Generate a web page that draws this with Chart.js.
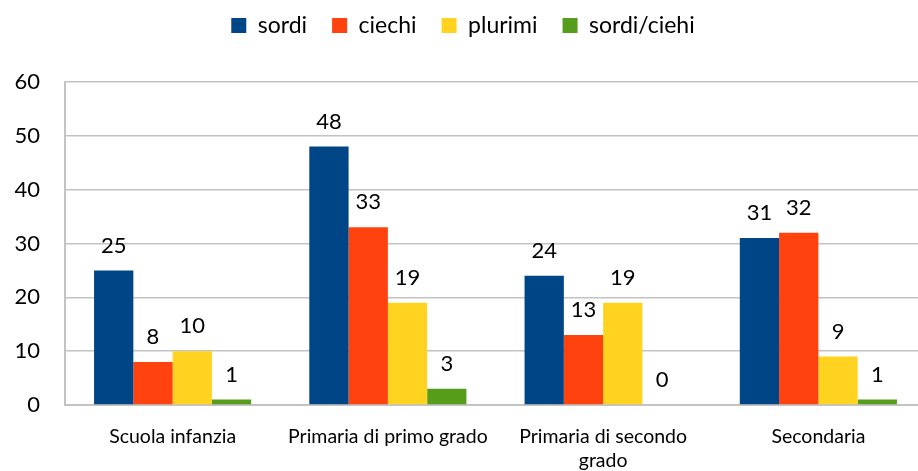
<!DOCTYPE html>
<html>
<head>
<meta charset="utf-8">
<script src="https://cdn.jsdelivr.net/npm/chart.js@4/dist/chart.umd.min.js"></script>
<style>
  html, body { margin: 0; padding: 0; background: #fff; overflow: hidden; }
  #wrap { width: 926px; height: 471px; }
</style>
</head>
<body>
<div id="wrap"><canvas id="chart"></canvas></div>
<script>
// data
const categories = ["Scuola infanzia", "Primaria di primo grado", ["Primaria di secondo", "grado"], "Secondaria"];
const sordi = [25, 48, 24, 31];
const ciechi = [8, 33, 13, 32];
const plurimi = [10, 19, 19, 9];
const sordiCiehi = [1, 3, 0, 1];

const fontFamily = "Lato, 'Liberation Sans', sans-serif";
const gridColor = "#c3c3c3";

// value labels above the bars
const valueLabels = {
  id: "valueLabels",
  afterDatasetsDraw(chart) {
    const ctx = chart.ctx;
    ctx.save();
    ctx.font = "22px " + fontFamily;
    ctx.fillStyle = "#000";
    ctx.textAlign = "center";
    ctx.textBaseline = "middle";
    chart.data.datasets.forEach((ds, i) => {
      chart.getDatasetMeta(i).data.forEach((bar, j) => {
        ctx.fillText(ds.data[j], bar.x, bar.y - 25);
      });
    });
    ctx.restore();
  }
};

// more room under the legend
const legendSpace = {
  id: "legendSpace",
  beforeInit(chart) {
    const fit = chart.legend.fit;
    chart.legend.fit = function () {
      fit.bind(chart.legend)();
      this.height = 93;
    };
  }
};

new Chart(document.getElementById("chart"), {
  type: "bar",
  data: {
    labels: categories,
    datasets: [
      { label: "sordi", data: sordi, backgroundColor: "#004586" },
      { label: "ciechi", data: ciechi, backgroundColor: "#ff420e" },
      { label: "plurimi", data: plurimi, backgroundColor: "#ffd320" },
      { label: "sordi/ciehi", data: sordiCiehi, backgroundColor: "#579d1c" }
    ]
  },
  options: {
    responsive: true,
    maintainAspectRatio: false,
    animation: false,
    layout: { padding: { top: -11, bottom: 0, left: 0, right: 0 } },
    datasets: { bar: { categoryPercentage: 0.73, barPercentage: 1.0 } },
    plugins: {
      legend: {
        position: "top",
        labels: {
          boxWidth: 15,
          boxHeight: 15,
          padding: 25,
          color: "#000",
          font: { family: fontFamily, size: 23 }
        }
      },
      tooltip: { enabled: false }
    },
    scales: {
      x: {
        afterFit(scale) { scale.height = 66; },
        grid: { display: false, drawTicks: false },
        border: { color: gridColor, width: 2 },
        ticks: {
          color: "#000",
          padding: 20,
          maxRotation: 0,
          font: { family: fontFamily, size: 19.5, lineHeight: 1.23 }
        }
      },
      y: {
        min: 0,
        max: 60,
        afterFit(scale) { scale.width = 65; },
        grid: { color: gridColor, lineWidth: 1.5, drawTicks: false },
        border: { color: gridColor, width: 2 },
        ticks: {
          stepSize: 10,
          color: "#000",
          padding: 25,
          font: { family: fontFamily, size: 22 }
        }
      }
    }
  },
  plugins: [valueLabels, legendSpace]
});
</script>
</body>
</html>
